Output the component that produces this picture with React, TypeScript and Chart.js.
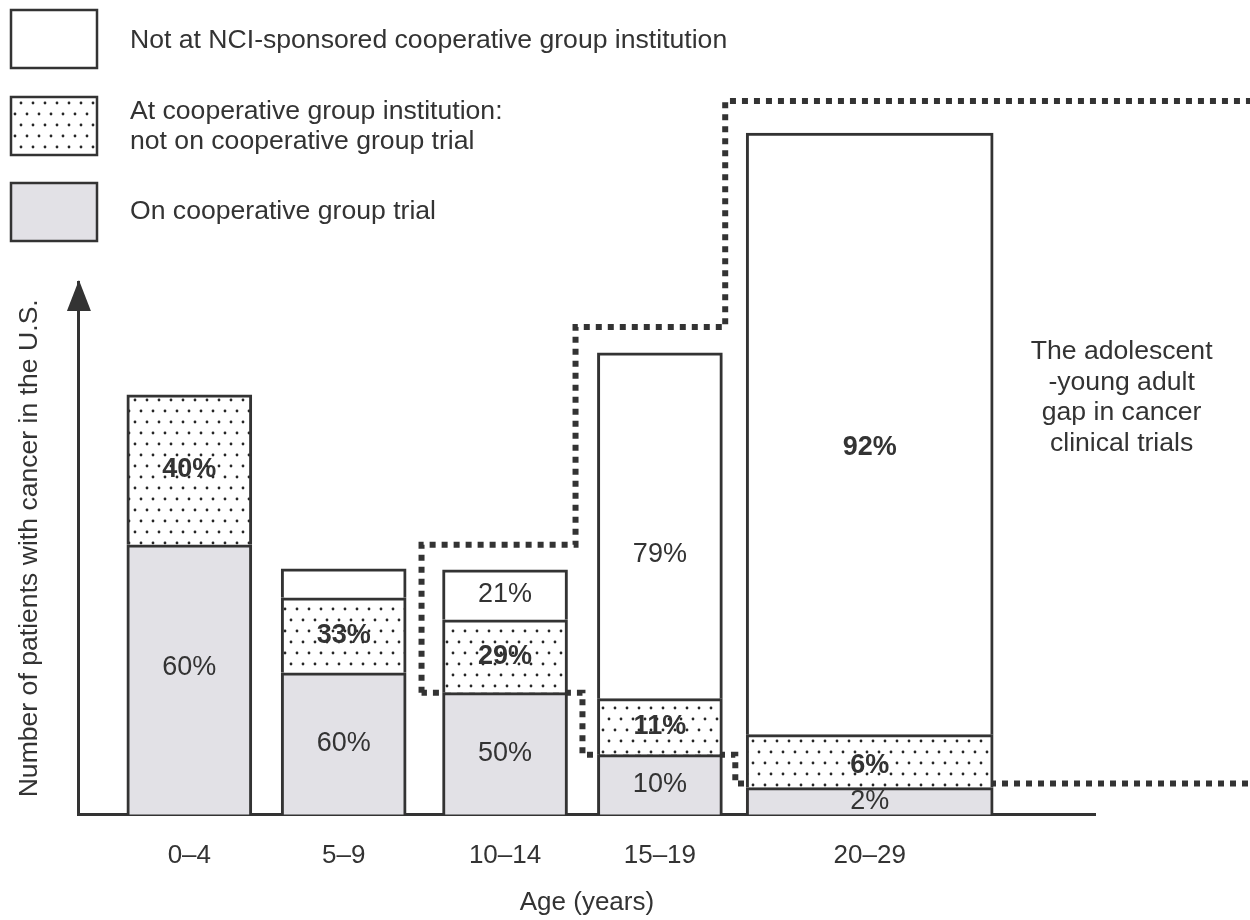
import React, { useEffect, useRef } from 'react';
import { Chart, registerables } from 'chart.js';

Chart.register(...registerables);

// ---------------- data ----------------
const categories = ['0–4', '5–9', '10–14', '15–19', '20–29'];
// segment sizes (relative number of patients)
const onTrial = [270, 142, 122, 60, 27];
const atInstitutionNotOnTrial = [150, 75, 73, 56, 53];
const notAtInstitution: (number | null)[] = [null, 29, 50, 346, 602];
// printed percentage labels
const pctOnTrial = ['60%', '60%', '50%', '10%', '2%'];
const pctAtInstitution = ['40%', '33%', '29%', '11%', '6%'];
const pctNotAtInstitution = ['', '', '21%', '79%', '92%'];
// texts
const legendNotAt = ['Not at NCI-sponsored cooperative group institution'];
const legendAtInst = ['At cooperative group institution:', 'not on cooperative group trial'];
const legendOnTrial = ['On cooperative group trial'];
const annotationLines = ['The adolescent', '-young adult', 'gap in cancer', 'clinical trials'];
const xTitle = 'Age (years)';
const yTitle = 'Number of patients with cancer in the U.S.';

// ---------------- layout / style ----------------
const W = 1250;
const H = 920;
const CAT_X = [110.5, 265, 426.5, 581.5, 791.5]; // category centres on the x scale
const X_MAX = 1017;
const Y_MAX = 533;
const WIDE = 4;
const NARROW_W = 125;
const WIDE_W = 247;
const INK = '#333333';
const GRAY_FILL = '#e2e1e6';
const FONT = '"Liberation Sans", Arial, Helvetica, sans-serif';
const LABEL_DY = [
  [-12, 0, 0, 0, 0],
  [0, 0, 0, 0, 4],
  [0, 0, 0, 29, 14],
];

function makeDotPattern(): CanvasPattern | string {
  const c = document.createElement('canvas');
  c.width = 12;
  c.height = 22;
  const g = c.getContext('2d');
  if (!g) return '#ffffff';
  g.fillStyle = '#ffffff';
  g.fillRect(0, 0, 12, 22);
  g.fillStyle = '#262626';
  [[3, 4], [9, 15]].forEach(([x, y]) => {
    g.beginPath();
    g.arc(x, y, 1.4, 0, Math.PI * 2);
    g.fill();
  });
  return g.createPattern(c, 'repeat') || '#ffffff';
}

export default function App() {
  const ref = useRef<HTMLCanvasElement>(null);

  useEffect(() => {
    const canvas = ref.current;
    if (!canvas) return;
    Chart.defaults.font.family = FONT;
    Chart.defaults.color = INK;

    const dots = makeDotPattern();
    const series = [
      { label: legendOnTrial.join(' '), lines: legendOnTrial, values: onTrial, pct: pctOnTrial, fill: GRAY_FILL as any },
      { label: legendAtInst.join(' '), lines: legendAtInst, values: atInstitutionNotOnTrial, pct: pctAtInstitution, fill: dots as any },
      { label: legendNotAt.join(' '), lines: legendNotAt, values: notAtInstitution, pct: pctNotAtInstitution, fill: '#ffffff' as any },
    ];

    const datasets: any[] = [];
    series.forEach((s, si) => {
      [false, true].forEach((wide) => {
        const data = categories
          .map((_, i) => ({ x: CAT_X[i], y: s.values[i], cat: i }))
          .filter((p) => p.y !== null && (p.cat === WIDE) === wide);
        datasets.push({
          label: s.label,
          data,
          backgroundColor: s.fill,
          borderColor: INK,
          borderWidth: 3,
          borderSkipped: 'start',
          barThickness: wide ? WIDE_W : NARROW_W,
          stack: 'ages',
          clip: false,
          series: si,
        });
      });
    });

    const total = (i: number) => onTrial[i] + atInstitutionNotOnTrial[i] + (notAtInstitution[i] ?? 0);

    const decor = {
      id: 'decor',
      beforeDatasetsDraw(chart: any) {
        const { ctx } = chart;
        const xs = chart.scales.x;
        const ys = chart.scales.y;
        const half = (i: number) => (i === WIDE ? WIDE_W : NARROW_W) / 2;
        const left = (i: number) => xs.getPixelForValue(CAT_X[i]) - half(i);
        const right = (i: number) => xs.getPixelForValue(CAT_X[i]) + half(i);
        const grayTop = (i: number) => ys.getPixelForValue(onTrial[i]);
        const barTop = (i: number) => ys.getPixelForValue(total(i));
        const x0 = left(2) - 21;
        const y1 = grayTop(2);
        const y2 = barTop(2) - 25;
        const xA = right(2) + 8;
        const y3 = barTop(3) - 26;
        const xB = left(4) - 21;
        const y4 = barTop(4) - 32;
        const xEnd = chart.width + 10;
        const y5 = grayTop(4) - 4;
        const xC = (right(3) + left(4)) / 2 + 1;
        const y6 = grayTop(3);
        const xD = (right(2) + left(3)) / 2;
        ctx.save();
        ctx.strokeStyle = INK;
        ctx.lineWidth = 6;
        ctx.setLineDash([6, 6]);
        ctx.beginPath();
        ctx.moveTo(x0, y1);
        ctx.lineTo(x0, y2);
        ctx.lineTo(xA, y2);
        ctx.lineTo(xA, y3);
        ctx.lineTo(xB, y3);
        ctx.lineTo(xB, y4);
        ctx.lineTo(xEnd, y4);
        ctx.moveTo(xEnd, y5);
        ctx.lineTo(xC, y5);
        ctx.lineTo(xC, y6);
        ctx.lineTo(xD, y6);
        ctx.lineTo(xD, y1);
        ctx.lineTo(x0, y1);
        ctx.stroke();
        ctx.restore();
      },
      afterDatasetsDraw(chart: any) {
        const { ctx } = chart;
        ctx.save();
        ctx.fillStyle = INK;
        ctx.textAlign = 'center';
        ctx.textBaseline = 'middle';
        chart.data.datasets.forEach((ds: any, di: number) => {
          const meta = chart.getDatasetMeta(di);
          meta.data.forEach((el: any, j: number) => {
            const p = ds.data[j];
            const text = series[ds.series].pct[p.cat];
            if (!text) return;
            const bold = ds.series === 1 || (ds.series === 2 && p.cat === WIDE);
            ctx.font = `${bold ? 'bold ' : ''}27px ${FONT}`;
            const cy = (el.y + el.base) / 2 + LABEL_DY[ds.series][p.cat];
            ctx.fillText(text, el.x, cy);
          });
        });
        ctx.restore();
      },
      afterDraw(chart: any) {
        const { ctx, chartArea } = chart;
        ctx.save();
        // arrow head on y axis
        const ax = chartArea.left;
        const tip = chartArea.top - 2;
        ctx.fillStyle = INK;
        ctx.beginPath();
        ctx.moveTo(ax, tip);
        ctx.lineTo(ax - 12, tip + 31);
        ctx.lineTo(ax + 12, tip + 31);
        ctx.closePath();
        ctx.fill();

        // legend
        const items = [
          { ser: series[2], top: 10, lineY: [41] },
          { ser: series[1], top: 97, lineY: [112, 142] },
          { ser: series[0], top: 183, lineY: [212] },
        ];
        items.forEach((it) => {
          ctx.fillStyle = it.ser.fill;
          ctx.fillRect(11, it.top, 86, 58);
          ctx.strokeStyle = INK;
          ctx.lineWidth = 2.5;
          ctx.strokeRect(11, it.top, 86, 58);
          ctx.fillStyle = INK;
          ctx.font = `26.6px ${FONT}`;
          ctx.textAlign = 'left';
          ctx.textBaseline = 'middle';
          it.ser.lines.forEach((ln: string, k: number) => ctx.fillText(ln, 130, it.lineY[k]));
        });

        // annotation
        const xs = chart.scales.x;
        const cx = (xs.getPixelForValue(CAT_X[WIDE]) + WIDE_W / 2 + chart.width) / 2;
        ctx.font = `26.6px ${FONT}`;
        ctx.textAlign = 'center';
        ctx.textBaseline = 'middle';
        ctx.fillStyle = INK;
        annotationLines.forEach((ln, k) => ctx.fillText(ln, cx, 352 + k * 30.5));
        ctx.restore();
      },
    };

    const chart = new Chart(canvas, {
      type: 'bar',
      data: { datasets },
      options: {
        responsive: false,
        maintainAspectRatio: false,
        devicePixelRatio: 1,
        animation: false,
        events: [],
        layout: { padding: { left: 4, right: 155, top: 282, bottom: 2 } },
        plugins: {
          legend: { display: false },
          tooltip: { enabled: false },
        },
        scales: {
          x: {
            type: 'linear',
            min: 0,
            max: X_MAX,
            offset: false,
            stacked: true,
            grid: { display: false, drawTicks: false },
            border: { display: true, color: INK, width: 3 },
            afterBuildTicks: (axis: any) => {
              axis.ticks = CAT_X.map((v) => ({ value: v }));
            },
            ticks: {
              autoSkip: false,
              maxRotation: 0,
              minRotation: 0,
              padding: 26,
              color: INK,
              font: { size: 26 },
              callback: (_v: any, i: number) => categories[i],
            },
            title: {
              display: true,
              text: xTitle,
              color: INK,
              font: { size: 26 },
              padding: { top: -11, bottom: 0 },
            },
          },
          y: {
            min: 0,
            max: Y_MAX,
            stacked: true,
            grid: { display: false, drawTicks: false },
            border: { display: true, color: INK, width: 3 },
            ticks: { display: false },
            title: {
              display: true,
              text: yTitle,
              color: INK,
              font: { size: 26.6 },
              padding: { top: 10, bottom: 33 },
            },
          },
        } as any,
      },
      plugins: [decor],
    } as any);

    return () => chart.destroy();
  }, []);

  return (
    <div style={{ position: 'absolute', left: 0, top: 0, width: W, height: H, background: '#ffffff' }}>
      <canvas ref={ref} width={W} height={H} style={{ display: 'block', width: W, height: H }} />
    </div>
  );
}
